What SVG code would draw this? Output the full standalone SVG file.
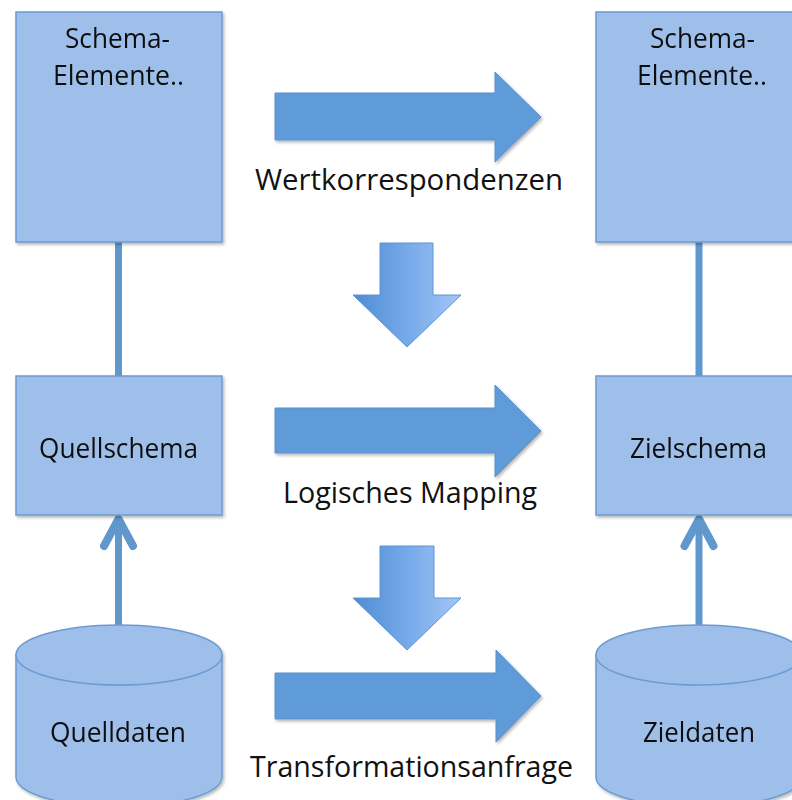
<svg xmlns="http://www.w3.org/2000/svg" width="792" height="800" viewBox="0 0 792 800">
  <defs>
    <style>
      .box { fill: #9dbfea; stroke: #6c9bd2; stroke-width: 1.5; }
      .lbl { font-family: "Open Sans", "Liberation Sans", sans-serif; font-size: 27px; fill: #111; text-anchor: middle; }
      .mid { font-family: "Open Sans", "Liberation Sans", sans-serif; font-size: 29px; fill: #111; }
      .big { fill: #5f9bd8; stroke: #5a93cf; stroke-width: 1; }
      .down { fill: url(#downGrad); stroke: #5b94d4; stroke-width: 1; }
      .link { fill: none; stroke: #6097cc; stroke-width: 7; }
      .up { fill: none; stroke: #6097cc; stroke-width: 8; stroke-linecap: round; stroke-linejoin: round; }
    </style>
    <linearGradient id="downGrad" x1="0" y1="0" x2="1" y2="0">
      <stop offset="0" stop-color="#4e8cd5"/>
      <stop offset="0.5" stop-color="#76a9e8"/>
      <stop offset="1" stop-color="#a2c7f8"/>
    </linearGradient>
    <filter id="shadow" x="-10%" y="-10%" width="125%" height="125%">
      <feDropShadow dx="1.5" dy="2" stdDeviation="1.5" flood-color="#000" flood-opacity="0.28"/>
    </filter>
  </defs>

  <!-- connectors -->
  <g id="connectors">
    <line class="link" x1="118.5" y1="242" x2="118.5" y2="377"/>
    <line class="link" x1="699" y1="242" x2="699" y2="377"/>
    <line class="link" x1="118.5" y1="626" x2="118.5" y2="520"/>
    <polyline class="up" points="104,546 118.5,519 133,546"/>
    <line class="link" x1="699" y1="626" x2="699" y2="520"/>
    <polyline class="up" points="684.5,546 699,519 713.5,546"/>
  </g>

  <!-- source side -->
  <g id="schema-elemente-quelle" filter="url(#shadow)">
    <rect class="box" x="16" y="12" width="206" height="230"/>
    <text class="lbl" x="117.5" y="48" textLength="105" lengthAdjust="spacingAndGlyphs">Schema-</text>
    <text class="lbl" x="118.5" y="85" textLength="131" lengthAdjust="spacingAndGlyphs">Elemente..</text>
  </g>
  <g id="quellschema" filter="url(#shadow)">
    <rect class="box" x="16" y="376" width="206" height="139"/>
    <text class="lbl" x="118.5" y="458" textLength="159" lengthAdjust="spacingAndGlyphs">Quellschema</text>
  </g>
  <g id="quelldaten" filter="url(#shadow)">
    <path class="box" d="M16,655 L16,777 A103,30 0 0 0 222,777 L222,655 Z"/>
    <ellipse class="box" cx="119" cy="655" rx="103" ry="30"/>
    <text class="lbl" x="118" y="742" textLength="136" lengthAdjust="spacingAndGlyphs">Quelldaten</text>
  </g>

  <!-- target side -->
  <g id="schema-elemente-ziel" filter="url(#shadow)">
    <rect class="box" x="596" y="12" width="206" height="230"/>
    <text class="lbl" x="702.5" y="48" textLength="105" lengthAdjust="spacingAndGlyphs">Schema-</text>
    <text class="lbl" x="702" y="85" textLength="130" lengthAdjust="spacingAndGlyphs">Elemente..</text>
  </g>
  <g id="zielschema" filter="url(#shadow)">
    <rect class="box" x="596" y="376" width="206" height="139"/>
    <text class="lbl" x="698.5" y="458" textLength="137" lengthAdjust="spacingAndGlyphs">Zielschema</text>
  </g>
  <g id="zieldaten" filter="url(#shadow)">
    <path class="box" d="M596,655 L596,777 A103,30 0 0 0 802,777 L802,655 Z"/>
    <ellipse class="box" cx="699" cy="655" rx="103" ry="30"/>
    <text class="lbl" x="699" y="742" textLength="112" lengthAdjust="spacingAndGlyphs">Zieldaten</text>
  </g>

  <!-- mapping steps -->
  <g id="wertkorrespondenzen">
    <polygon class="big" filter="url(#shadow)" points="275,93 495,93 495,72 541,117 495,162 495,140 275,140"/>
    <text class="mid" x="255" y="190" textLength="308" lengthAdjust="spacingAndGlyphs">Wertkorrespondenzen</text>
  </g>
  <g id="schritt-1">
    <polygon class="down" points="380,243 433,243 433,295 461,295 407,347 353,295 380,295"/>
  </g>
  <g id="logisches-mapping">
    <polygon class="big" filter="url(#shadow)" points="275,408 495,408 495,385 541,431 495,477 495,453 275,453"/>
    <text class="mid" x="283" y="503" textLength="254" lengthAdjust="spacingAndGlyphs">Logisches Mapping</text>
  </g>
  <g id="schritt-2">
    <polygon class="down" points="380,546 434,546 434,598 461,598 407,650 353,598 380,598"/>
  </g>
  <g id="transformationsanfrage">
    <polygon class="big" filter="url(#shadow)" points="275,673 496,673 496,650 541,696 496,742 496,719 275,719"/>
    <text class="mid" x="250" y="777" textLength="323" lengthAdjust="spacingAndGlyphs">Transformationsanfrage</text>
  </g>
</svg>
